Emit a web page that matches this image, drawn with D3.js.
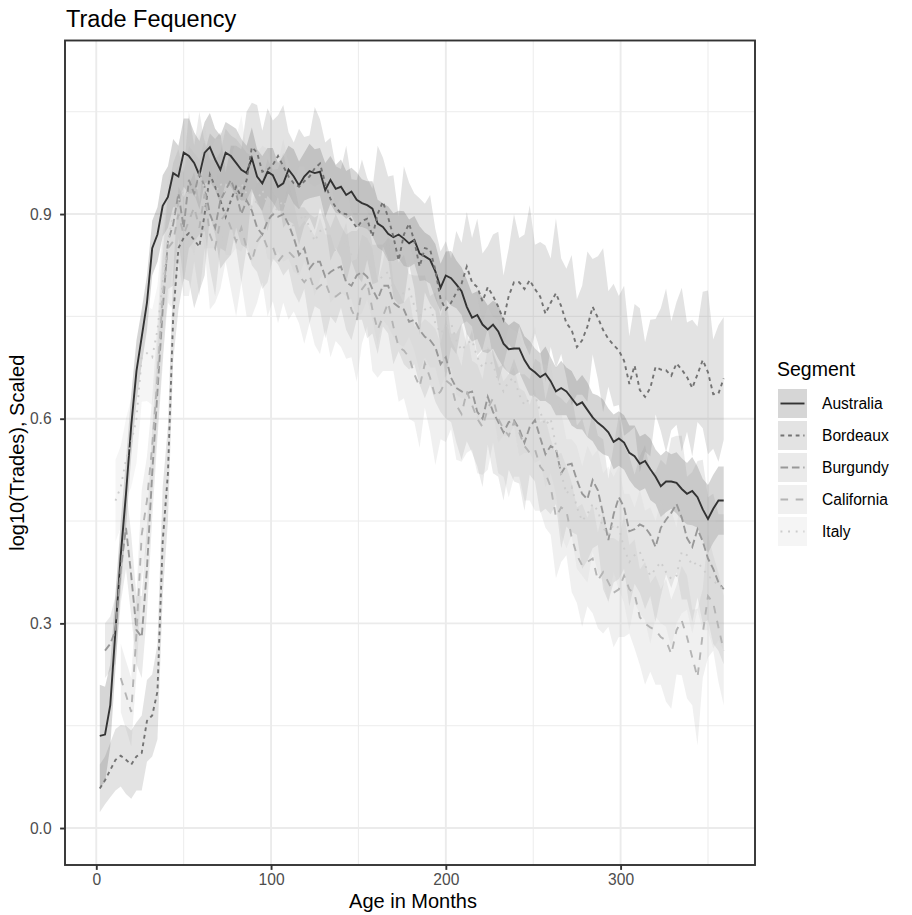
<!DOCTYPE html>
<html>
<head>
<meta charset="utf-8">
<script src="https://cdnjs.cloudflare.com/ajax/libs/d3/7.8.5/d3.min.js"></script>
<style>
  body { margin: 0; background: #fff; }
  text { font-family: "Liberation Sans", Arial, Helvetica, sans-serif; }
</style>
</head>
<body>
<svg id="chart" width="912" height="915"></svg>
<script>
// age in months, sampled every 3 months
var months = d3.range(2, 360, 3);
var segments = ["Australia", "Bordeaux", "Burgundy", "California", "Italy"];

var australia = [0.135,0.137,0.18,0.29,0.40,0.49,0.59,0.67,0.72,0.77,
0.85,0.87,0.912,0.925,0.96,0.955,0.99,0.985,0.975,0.957,
0.99,0.998,0.98,0.965,0.99,0.985,0.975,0.965,0.96,0.982,
0.955,0.945,0.962,0.957,0.94,0.945,0.965,0.955,0.942,0.955,
0.963,0.96,0.962,0.935,0.95,0.937,0.94,0.928,0.933,0.921,
0.916,0.913,0.908,0.886,0.881,0.871,0.866,0.87,0.864,0.857,
0.862,0.842,0.838,0.833,0.816,0.792,0.81,0.806,0.797,0.787,
0.764,0.748,0.752,0.738,0.731,0.738,0.728,0.71,0.702,0.703,
0.703,0.686,0.674,0.668,0.661,0.666,0.655,0.64,0.645,0.64,
0.63,0.62,0.624,0.613,0.602,0.594,0.588,0.58,0.566,0.571,
0.565,0.55,0.545,0.534,0.538,0.526,0.515,0.501,0.508,0.508,
0.506,0.497,0.49,0.494,0.485,0.467,0.453,0.468,0.48,0.48];

var bordeaux = [0.058,0.07,0.085,0.1,0.106,0.1,0.093,0.105,0.11,0.157,
0.165,0.2,0.42,0.52,0.75,0.85,0.865,0.872,0.862,0.852,
0.9,0.958,0.94,0.92,0.896,0.92,0.94,0.925,0.95,0.998,
0.99,0.962,0.965,0.972,0.985,0.97,0.955,0.945,0.94,0.948,
0.955,0.967,0.974,0.945,0.922,0.91,0.901,0.9,0.891,0.88,
0.89,0.893,0.867,0.9,0.918,0.895,0.867,0.832,0.87,0.886,
0.86,0.823,0.85,0.848,0.818,0.775,0.76,0.77,0.785,0.798,
0.823,0.8,0.793,0.772,0.793,0.78,0.764,0.745,0.78,0.8,
0.8,0.79,0.803,0.79,0.779,0.754,0.77,0.784,0.765,0.74,
0.73,0.705,0.715,0.735,0.764,0.748,0.73,0.717,0.708,0.7,
0.685,0.651,0.678,0.642,0.632,0.645,0.676,0.672,0.671,0.663,
0.681,0.672,0.661,0.645,0.665,0.686,0.668,0.636,0.637,0.659];

var burgundy = [null,0.26,0.27,0.29,0.38,0.44,0.37,0.29,0.28,0.38,
0.52,0.64,0.76,0.86,0.885,0.93,0.88,0.95,0.93,0.96,
0.94,0.9,0.88,0.92,0.935,0.95,0.93,0.9,0.92,0.905,
0.88,0.87,0.89,0.9,0.896,0.9,0.885,0.865,0.84,0.85,
0.82,0.83,0.83,0.808,0.815,0.82,0.823,0.8,0.795,0.81,
0.815,0.808,0.79,0.775,0.795,0.795,0.77,0.764,0.76,0.742,
0.745,0.73,0.72,0.715,0.705,0.68,0.69,0.66,0.645,0.64,
0.637,0.64,0.61,0.6,0.632,0.61,0.595,0.58,0.595,0.598,
0.585,0.565,0.588,0.598,0.572,0.548,0.56,0.555,0.52,0.532,
0.534,0.51,0.49,0.482,0.51,0.495,0.46,0.422,0.46,0.485,
0.47,0.435,0.438,0.445,0.441,0.43,0.412,0.44,0.452,0.462,
0.475,0.455,0.425,0.412,0.438,0.42,0.395,0.38,0.36,0.35];

var california = [null,null,null,null,0.22,0.195,0.17,0.285,0.43,0.48,
0.56,0.66,0.78,0.85,0.86,0.9,0.87,0.89,0.91,0.88,
0.93,0.87,0.85,0.89,0.9,0.88,0.86,0.88,0.85,0.83,
0.86,0.87,0.85,0.852,0.83,0.84,0.845,0.837,0.81,0.8,
0.81,0.788,0.795,0.8,0.78,0.779,0.785,0.788,0.76,0.744,
0.79,0.8,0.76,0.73,0.75,0.77,0.735,0.705,0.7,0.69,
0.665,0.647,0.681,0.66,0.632,0.64,0.656,0.65,0.62,0.607,
0.64,0.62,0.6,0.588,0.615,0.63,0.6,0.585,0.575,0.595,
0.58,0.56,0.55,0.555,0.53,0.52,0.5,0.456,0.47,0.465,
0.426,0.4,0.385,0.39,0.395,0.363,0.375,0.36,0.345,0.35,
0.37,0.35,0.343,0.309,0.3,0.294,0.29,0.28,0.275,0.255,
0.29,0.304,0.28,0.25,0.221,0.285,0.34,0.33,0.294,0.26];

var italy = [null,null,null,0.48,0.5,0.54,0.565,0.6,0.69,0.696,
0.69,0.73,0.8,0.86,0.9,0.92,0.935,0.93,0.92,0.95,
0.94,0.92,0.93,0.945,0.93,0.91,0.93,0.945,0.93,0.91,
0.92,0.935,0.915,0.9,0.91,0.92,0.905,0.88,0.89,0.9,
0.88,0.86,0.875,0.88,0.86,0.845,0.855,0.86,0.84,0.82,
0.835,0.84,0.815,0.8,0.81,0.815,0.79,0.775,0.785,0.79,
0.765,0.75,0.76,0.765,0.74,0.725,0.735,0.74,0.715,0.7,
0.71,0.715,0.69,0.675,0.685,0.68,0.655,0.64,0.655,0.66,
0.635,0.62,0.63,0.635,0.61,0.59,0.6,0.56,0.52,0.49,
0.5,0.47,0.45,0.46,0.475,0.465,0.44,0.43,0.445,0.44,
0.41,0.39,0.4,0.405,0.385,0.37,0.38,0.39,0.375,0.365,
0.37,0.405,0.4,0.385,0.39,0.38,0.37,0.363,0.355,0.35];

// standard errors for the ribbons
var australiaSe = [0.075,0.07,0.06,0.055,0.05,0.05,0.045,0.045,0.04,0.04,
0.04,0.04,0.045,0.045,0.05,0.045,0.05,0.055,0.045,0.05,
0.045,0.05,0.045,0.05,0.045,0.045,0.05,0.045,0.04,0.045,
0.04,0.04,0.035,0.04,0.035,0.04,0.035,0.04,0.035,0.035,
0.04,0.035,0.035,0.04,0.035,0.035,0.04,0.035,0.035,0.04,
0.035,0.035,0.04,0.035,0.035,0.04,0.035,0.035,0.04,0.035,
0.035,0.04,0.035,0.035,0.04,0.035,0.035,0.04,0.035,0.035,
0.04,0.035,0.035,0.04,0.035,0.035,0.04,0.035,0.035,0.04,
0.035,0.035,0.04,0.035,0.035,0.04,0.035,0.035,0.04,0.035,
0.04,0.035,0.04,0.04,0.035,0.04,0.04,0.035,0.04,0.04,
0.04,0.04,0.045,0.04,0.04,0.045,0.04,0.045,0.045,0.04,
0.045,0.045,0.045,0.05,0.045,0.045,0.05,0.05,0.05,0.05];

var bordeauxSe = [0.035,0.035,0.04,0.045,0.045,0.05,0.05,0.05,0.055,0.06,
0.06,0.07,0.08,0.07,0.065,0.09,0.06,0.07,0.1,0.065,
0.09,0.06,0.07,0.1,0.065,0.08,0.06,0.07,0.1,0.065,
0.07,0.06,0.09,0.065,0.06,0.09,0.065,0.06,0.085,0.065,
0.06,0.09,0.065,0.06,0.09,0.06,0.065,0.1,0.06,0.07,
0.09,0.06,0.07,0.1,0.065,0.06,0.09,0.065,0.1,0.06,
0.07,0.1,0.065,0.08,0.06,0.07,0.1,0.065,0.09,0.06,
0.08,0.065,0.1,0.07,0.06,0.09,0.11,0.065,0.07,0.1,
0.065,0.08,0.11,0.065,0.08,0.1,0.065,0.11,0.07,0.08,
0.11,0.07,0.08,0.11,0.07,0.09,0.12,0.07,0.09,0.08,
0.11,0.07,0.09,0.12,0.08,0.1,0.07,0.09,0.12,0.08,
0.09,0.12,0.08,0.1,0.07,0.1,0.12,0.08,0.1,0.09];

var burgundySe = [null,0.04,0.04,0.05,0.05,0.06,0.06,0.05,0.06,0.065,
0.065,0.07,0.08,0.07,0.09,0.065,0.08,0.1,0.07,0.09,
0.065,0.08,0.1,0.07,0.09,0.065,0.08,0.1,0.07,0.08,
0.065,0.08,0.09,0.065,0.07,0.09,0.065,0.08,0.07,0.06,
0.08,0.065,0.07,0.09,0.065,0.08,0.06,0.07,0.08,0.065,
0.07,0.09,0.065,0.08,0.06,0.07,0.09,0.065,0.08,0.07,
0.065,0.08,0.09,0.065,0.08,0.07,0.09,0.065,0.08,0.1,
0.07,0.09,0.08,0.1,0.07,0.09,0.08,0.1,0.07,0.09,
0.08,0.1,0.07,0.09,0.11,0.08,0.1,0.08,0.11,0.09,
0.1,0.08,0.11,0.09,0.1,0.08,0.11,0.09,0.1,0.12,
0.09,0.11,0.08,0.1,0.12,0.09,0.11,0.1,0.08,0.11,
0.1,0.12,0.09,0.11,0.1,0.12,0.09,0.11,0.1,0.11];

var californiaSe = [null,null,null,null,0.05,0.05,0.05,0.06,0.065,0.065,
0.07,0.08,0.09,0.08,0.1,0.07,0.09,0.11,0.08,0.1,
0.08,0.11,0.08,0.1,0.07,0.09,0.11,0.08,0.1,0.08,
0.09,0.07,0.1,0.08,0.09,0.07,0.1,0.08,0.07,0.09,
0.07,0.08,0.1,0.07,0.09,0.065,0.08,0.1,0.07,0.09,
0.08,0.065,0.09,0.07,0.08,0.1,0.065,0.08,0.07,0.09,
0.07,0.09,0.065,0.08,0.1,0.07,0.09,0.065,0.08,0.07,
0.09,0.065,0.08,0.07,0.09,0.065,0.08,0.07,0.09,0.08,
0.065,0.08,0.07,0.09,0.065,0.08,0.07,0.09,0.08,0.065,
0.08,0.07,0.09,0.065,0.08,0.07,0.09,0.065,0.08,0.07,
0.09,0.065,0.08,0.07,0.09,0.065,0.08,0.07,0.09,0.08,
0.065,0.08,0.09,0.07,0.1,0.065,0.09,0.07,0.08,0.08];

var italySe = [null,null,null,0.06,0.06,0.06,0.065,0.065,0.065,0.07,
0.07,0.065,0.08,0.09,0.07,0.08,0.1,0.07,0.08,0.065,
0.09,0.07,0.08,0.065,0.09,0.07,0.08,0.1,0.065,0.08,
0.07,0.065,0.08,0.07,0.065,0.09,0.07,0.065,0.08,0.07,
0.065,0.08,0.07,0.065,0.09,0.065,0.07,0.08,0.065,0.07,
0.08,0.065,0.07,0.09,0.065,0.08,0.07,0.065,0.08,0.07,
0.065,0.08,0.07,0.09,0.065,0.08,0.07,0.065,0.08,0.07,
0.08,0.07,0.09,0.065,0.08,0.07,0.09,0.065,0.08,0.07,
0.09,0.07,0.08,0.1,0.07,0.09,0.08,0.07,0.09,0.08,
0.07,0.09,0.08,0.1,0.07,0.09,0.08,0.1,0.07,0.09,
0.08,0.1,0.07,0.09,0.08,0.1,0.07,0.09,0.08,0.1,
0.07,0.09,0.08,0.1,0.07,0.09,0.08,0.1,0.08,0.09];

var xTicks = [0, 100, 200, 300];
var xMinor = [50, 150, 250, 350];
var yTicks = [0, 0.3, 0.6, 0.9];
var yMinor = [0.15, 0.45, 0.75, 1.05];

var values = [australia, bordeaux, burgundy, california, italy];
var ses = [australiaSe, bordeauxSe, burgundySe, californiaSe, italySe];
var greys = ["#333333", "#737373", "#989898", "#b4b4b4", "#cccccc"];
var dashes = [null, "3.8,3.8", "7.6,3.8", "7.6,7.6", "1.9,5.7"];

var panel = { left: 65, top: 40.5, right: 755, bottom: 865 };

var x = d3.scaleLinear().domain([-17.9, 376.9]).range([panel.left, panel.right]);
var y = d3.scaleLinear().domain([-0.0542, 1.1544]).range([panel.bottom, panel.top]);

var svg = d3.select("#chart");

var series = segments.map(function(name, s) {
    return {
        name: name,
        color: greys[s],
        dash: dashes[s],
        points: months.map(function(m, i) {
            return { m: m, v: values[s][i], se: ses[s][i] };
        })
    };
});

// panel grid
var grid = svg.append("g");
grid.selectAll(".xminor").data(xMinor).enter().append("line")
    .attr("x1", x).attr("x2", x).attr("y1", panel.top).attr("y2", panel.bottom)
    .attr("stroke", "#ebebeb").attr("stroke-width", 0.95);
grid.selectAll(".yminor").data(yMinor).enter().append("line")
    .attr("y1", y).attr("y2", y).attr("x1", panel.left).attr("x2", panel.right)
    .attr("stroke", "#ebebeb").attr("stroke-width", 0.95);
grid.selectAll(".xmajor").data(xTicks).enter().append("line")
    .attr("x1", x).attr("x2", x).attr("y1", panel.top).attr("y2", panel.bottom)
    .attr("stroke", "#ebebeb").attr("stroke-width", 1.9);
grid.selectAll(".ymajor").data(yTicks).enter().append("line")
    .attr("y1", y).attr("y2", y).attr("x1", panel.left).attr("x2", panel.right)
    .attr("stroke", "#ebebeb").attr("stroke-width", 1.9);

svg.append("clipPath").attr("id", "panel-clip").append("rect")
    .attr("x", panel.left).attr("y", panel.top)
    .attr("width", panel.right - panel.left).attr("height", panel.bottom - panel.top);

var plot = svg.append("g").attr("clip-path", "url(#panel-clip)");

var ribbon = d3.area()
    .defined(function(d) { return d.v != null; })
    .x(function(d) { return x(d.m); })
    .y0(function(d) { return y(d.v - d.se); })
    .y1(function(d) { return y(d.v + d.se); });

var line = d3.line()
    .defined(function(d) { return d.v != null; })
    .x(function(d) { return x(d.m); })
    .y(function(d) { return y(d.v); });

plot.selectAll(".ribbon").data(series).enter().append("path")
    .attr("d", function(d) { return ribbon(d.points); })
    .attr("fill", function(d) { return d.color; })
    .attr("fill-opacity", 0.2);

plot.selectAll(".line").data(series).enter().append("path")
    .attr("d", function(d) { return line(d.points); })
    .attr("fill", "none")
    .attr("stroke", function(d) { return d.color; })
    .attr("stroke-width", 1.9)
    .attr("stroke-dasharray", function(d) { return d.dash; });

// border
svg.append("rect")
    .attr("x", panel.left).attr("y", panel.top)
    .attr("width", panel.right - panel.left).attr("height", panel.bottom - panel.top)
    .attr("fill", "none").attr("stroke", "#333333").attr("stroke-width", 1.9);

// axes
var xAxis = d3.axisBottom(x).tickValues(xTicks).tickSize(4.9).tickPadding(4);
var yAxis = d3.axisLeft(y).tickValues(yTicks).tickSize(4.9).tickPadding(8.5)
    .tickFormat(d3.format(".1f"));

var gx = svg.append("g").attr("transform", "translate(0," + panel.bottom + ")").call(xAxis);
var gy = svg.append("g").attr("transform", "translate(" + panel.left + ",0)").call(yAxis);
[gx, gy].forEach(function(g) {
    g.select(".domain").remove();
    g.selectAll(".tick line").attr("stroke", "#333333").attr("stroke-width", 1.9);
    g.selectAll(".tick text").attr("fill", "#4d4d4d").style("font-size", "15.6px")
        .style("font-family", "'Liberation Sans', Arial, sans-serif");
});

svg.append("text").attr("x", 66).attr("y", 27)
    .style("font-size", "23.5px").attr("fill", "#000").text("Trade Fequency");

svg.append("text").attr("x", (panel.left + panel.right) / 2 + 3).attr("y", 908)
    .attr("text-anchor", "middle").style("font-size", "20px").text("Age in Months");

svg.append("text")
    .attr("transform", "translate(24," + ((panel.top + panel.bottom) / 2) + ") rotate(-90)")
    .attr("text-anchor", "middle").style("font-size", "20px").text("log10(Trades), Scaled");

// legend
var legend = svg.append("g").attr("transform", "translate(777,389)");
legend.append("text").attr("x", 0).attr("y", -13).style("font-size", "19.5px").text("Segment");

var keys = legend.selectAll(".key").data(series).enter().append("g")
    .attr("transform", function(d, i) { return "translate(0," + (i * 32) + ")"; });
keys.append("rect").attr("x", 1).attr("y", 0).attr("width", 29).attr("height", 29)
    .attr("fill", function(d) { return d.color; }).attr("fill-opacity", 0.2);
keys.append("line").attr("x1", 3.5).attr("x2", 27.5).attr("y1", 14.5).attr("y2", 14.5)
    .attr("stroke", function(d) { return d.color; }).attr("stroke-width", 1.9)
    .attr("stroke-dasharray", function(d) { return d.dash; });
keys.append("text").attr("x", 45).attr("y", 14.5).attr("dy", "0.35em")
    .style("font-size", "15.6px").text(function(d) { return d.name; });
</script>
</body>
</html>
